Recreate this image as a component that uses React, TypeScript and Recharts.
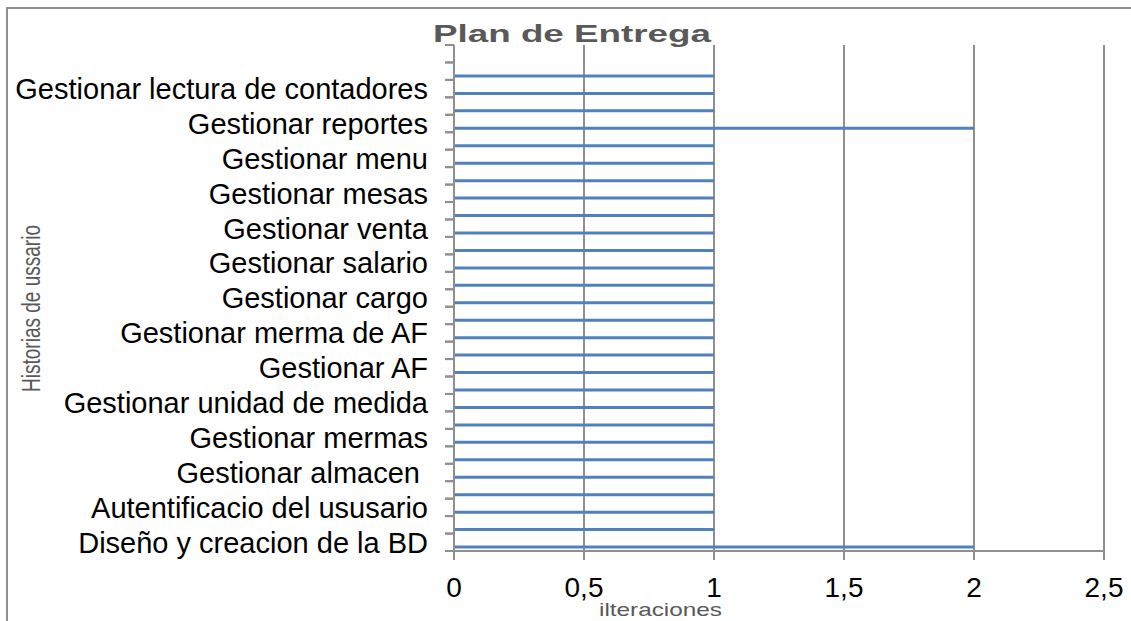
import React from 'react';
import { BarChart, Bar, XAxis, YAxis, CartesianGrid } from 'recharts';

const categories = [
  'Diseño y creacion de la BD', '',
  'Autentificacio del ususario', '',
  'Gestionar almacen ', '',
  'Gestionar mermas', '',
  'Gestionar unidad de medida', '',
  'Gestionar AF', '',
  'Gestionar merma de AF', '',
  'Gestionar cargo', '',
  'Gestionar salario', '',
  'Gestionar venta', '',
  'Gestionar mesas', '',
  'Gestionar menu', '',
  'Gestionar reportes', '',
  'Gestionar lectura de contadores', '',
  '',
];
const iteraciones: (number | null)[] = [
  2, 1, 1, 1, 1, 1, 1, 1, 1, 1, 1, 1, 1, 1, 1, 1, 1, 1, 1, 1, 1, 1, 1, 1, 2, 1, 1, 1, null,
];
const xTicks = [0, 0.5, 1, 1.5, 2, 2.5];

const title = 'Plan de Entrega';
const yTitle = 'Historias de ussario';
const xTitle = 'ilteraciones';

const data = categories.map((name, i) => ({ name, iteraciones: iteraciones[i] }));

const FONT = '"Liberation Sans", Arial, sans-serif';
const GRAY = '#8f8f8f';
const TICK_SIZE = 9;
const TICK_MARGIN = 17;

const YTick = (props: any) => {
  const { x, y, payload } = props;
  const axisX = x + TICK_SIZE + TICK_MARGIN;
  const half = payload && payload.offset ? payload.offset : 0;
  const label = typeof payload.value === 'number' ? categories[payload.value] : payload.value;
  return (
    <g>
      <line x1={axisX - TICK_SIZE} x2={axisX} y1={y - half} y2={y - half} stroke={GRAY} strokeWidth={2} />
      <line x1={axisX - TICK_SIZE} x2={axisX} y1={y + half} y2={y + half} stroke={GRAY} strokeWidth={2} />
      {label ? (
        <text
          x={x}
          y={y}
          dy="0.355em"
          textAnchor="end"
          fontSize={29}
          fontFamily={FONT}
          fill="#000"
          style={{ whiteSpace: 'pre' }}
        >
          {label}
        </text>
      ) : null}
    </g>
  );
};

export default function App() {
  return (
    <div
      style={{
        position: 'fixed',
        left: 0,
        top: 0,
        width: 1131,
        height: 621,
        overflow: 'hidden',
        background: '#fff',
      }}
    >
      <div style={{ position: 'absolute', left: 0, top: 0 }}>
        <BarChart
          width={1131}
          height={621}
          data={data}
          layout="vertical"
          margin={{ top: 45, right: 27, bottom: 0, left: 0 }}
          barGap={7}
        >
          <CartesianGrid horizontal={false} vertical stroke={GRAY} strokeWidth={2} />
          <XAxis
            type="number"
            domain={[0, 2.5]}
            ticks={xTicks}
            interval={0}
            height={70}
            tickSize={TICK_SIZE}
            tickMargin={TICK_MARGIN}
            tickFormatter={(v: number) => String(v).replace('.', ',')}
            tick={{ fontSize: 28, fontFamily: FONT, fill: '#000' }}
            axisLine={{ stroke: GRAY, strokeWidth: 2 }}
            tickLine={{ stroke: GRAY, strokeWidth: 2 }}
          />
          <YAxis
            type="category"
            dataKey="name"
            reversed
            interval={0}
            width={454}
            tickSize={TICK_SIZE}
            tickMargin={TICK_MARGIN}
            tickLine={false}
            axisLine={{ stroke: GRAY, strokeWidth: 2 }}
            tick={<YTick />}
          />
          <Bar dataKey="serie2" barSize={3} fill="#C0504D" isAnimationActive={false} />
          <Bar dataKey="iteraciones" barSize={3} fill="#4F81BD" isAnimationActive={false} />
        </BarChart>
      </div>
      <svg
        width={1131}
        height={621}
        style={{ position: 'absolute', left: 0, top: 0, pointerEvents: 'none' }}
      >
        <rect x={7} y={8} width={1300} height={800} fill="none" stroke={GRAY} strokeWidth={2} />
        <text
          x={572}
          y={42}
          textAnchor="middle"
          fontSize={23}
          fontWeight="bold"
          fontFamily={FONT}
          fill="#595959"
          textLength={278}
          lengthAdjust="spacingAndGlyphs"
        >
          {title}
        </text>
        <text
          transform="translate(40,308.5) rotate(-90)"
          x={0}
          y={0}
          textAnchor="middle"
          fontSize={25}
          fontFamily={FONT}
          fill="#595959"
          textLength={167}
          lengthAdjust="spacingAndGlyphs"
        >
          {yTitle}
        </text>
        <text
          x={660.5}
          y={616}
          textAnchor="middle"
          fontSize={19}
          fontFamily={FONT}
          fill="#595959"
          textLength={123}
          lengthAdjust="spacingAndGlyphs"
        >
          {xTitle}
        </text>
      </svg>
    </div>
  );
}
